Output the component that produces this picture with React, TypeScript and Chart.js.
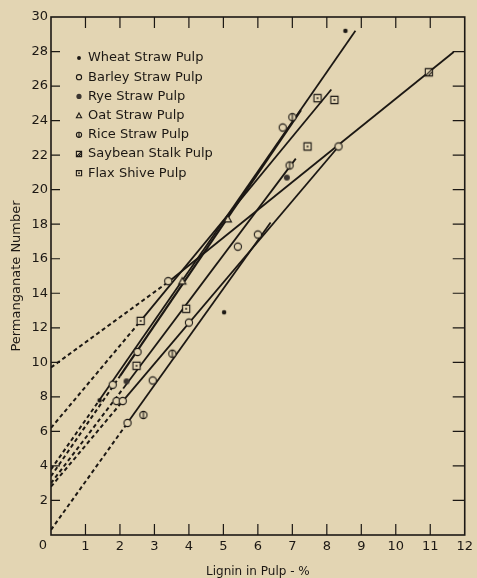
import React, { useEffect, useRef } from 'react';
import { Chart, registerables } from 'chart.js';

Chart.register(...registerables);

const BG = '#e3d5b3';
const INK = '#1c1814';
const FONT = 'DejaVu Sans';

// Axis ticks
const xTickValues = [0, 1, 2, 3, 4, 5, 6, 7, 8, 9, 10, 11, 12];
const yTickValues = [2, 4, 6, 8, 10, 12, 14, 16, 18, 20, 22, 24, 26, 28, 30];

// Legend labels / series keys
const pulpLabels = [
  'Wheat Straw Pulp',
  'Barley Straw Pulp',
  'Rye Straw Pulp',
  'Oat Straw Pulp',
  'Rice Straw Pulp',
  'Saybean Stalk Pulp',
  'Flax Shive Pulp',
];
const pulpKinds = ['wheat', 'barley', 'rye', 'oat', 'rice', 'soybean', 'flax'];

// Measured points (lignin %, permanganate number)
const wheatX = [8.54, 5.02, 1.41];
const wheatY = [29.2, 12.9, 7.8];
const barleyX = [3.4, 8.34, 1.79, 2.22, 2.95, 6.72, 5.42, 6.0, 4.0, 2.51, 1.9, 2.08];
const barleyY = [14.7, 22.5, 8.7, 6.49, 8.95, 23.6, 16.7, 17.4, 12.3, 10.6, 7.76, 7.76];
const ryeX = [2.19, 6.84];
const ryeY = [8.9, 20.7];
const oatX = [5.13, 3.81];
const oatY = [18.3, 14.7];
const riceX = [2.68, 6.92, 7.0, 3.52];
const riceY = [6.95, 21.4, 24.2, 10.5];
const soybeanX = [10.96];
const soybeanY = [26.8];
const flaxX = [8.22, 7.44, 2.6, 3.92, 2.48, 7.73];
const flaxY = [25.2, 22.5, 12.4, 13.1, 9.8, 25.3];

// Fitted lines: first segment is dashed extrapolation to zero lignin
const line1X = [0, 1.4, 8.83];
const line1Y = [3.8, 7.8, 29.2];
const line2X = [0, 2.0, 7.25];
const line2Y = [3.4, 9.2, 24.6];
const line3X = [0, 2.6, 8.13];
const line3Y = [6.2, 12.4, 25.8];
const line4X = [0, 3.43, 11.68];
const line4Y = [9.7, 14.7, 27.97];
const line5X = [0, 2.1, 7.1];
const line5Y = [3.0, 8.5, 21.8];
const line6X = [0, 2.1, 8.34];
const line6Y = [2.8, 7.8, 22.5];
const line7X = [0, 2.22, 6.37];
const line7Y = [0.3, 6.5, 18.1];

const zip = (xs: number[], ys: number[]) => xs.map((x, i) => ({ x, y: ys[i] }));

function drawSymbol(ctx: CanvasRenderingContext2D, kind: string, x: number, y: number, r: number) {
  ctx.save();
  ctx.strokeStyle = INK;
  ctx.fillStyle = BG;
  ctx.lineWidth = 1.1;
  ctx.beginPath();
  switch (kind) {
    case 'wheat':
      ctx.fillStyle = INK;
      ctx.arc(x, y, r * 0.75, 0, Math.PI * 2);
      ctx.fill();
      break;
    case 'barley':
      ctx.arc(x, y, r, 0, Math.PI * 2);
      ctx.fill();
      ctx.stroke();
      break;
    case 'rye':
      ctx.fillStyle = '#3b3530';
      ctx.arc(x, y, r, 0, Math.PI * 2);
      ctx.fill();
      break;
    case 'oat':
      ctx.moveTo(x, y - r);
      ctx.lineTo(x + r, y + r * 0.8);
      ctx.lineTo(x - r, y + r * 0.8);
      ctx.closePath();
      ctx.fill();
      ctx.stroke();
      break;
    case 'rice':
      ctx.arc(x, y, r, 0, Math.PI * 2);
      ctx.fill();
      ctx.stroke();
      ctx.beginPath();
      ctx.moveTo(x, y - r);
      ctx.lineTo(x, y + r);
      ctx.stroke();
      break;
    case 'soybean':
      ctx.rect(x - r, y - r, 2 * r, 2 * r);
      ctx.fill();
      ctx.stroke();
      ctx.beginPath();
      ctx.moveTo(x - r, y + r);
      ctx.lineTo(x + r, y - r);
      ctx.moveTo(x - r * 0.2, y + r);
      ctx.lineTo(x + r, y - r * 0.2);
      ctx.stroke();
      break;
    case 'flax':
      ctx.rect(x - r, y - r, 2 * r, 2 * r);
      ctx.fill();
      ctx.stroke();
      ctx.beginPath();
      ctx.fillStyle = INK;
      ctx.arc(x, y, 0.9, 0, Math.PI * 2);
      ctx.fill();
      break;
  }
  ctx.restore();
}

function makeIcon(kind: string, r: number) {
  const c = document.createElement('canvas');
  const s = Math.ceil(2 * r + 4);
  c.width = s;
  c.height = s;
  const ctx = c.getContext('2d')!;
  drawSymbol(ctx, kind, s / 2, s / 2, r);
  return c;
}

const framePlugin = {
  id: 'frameTicks',
  beforeDatasetsDraw(chart: any) {
    const { ctx, chartArea } = chart;
    const xs = chart.scales.x;
    const ys = chart.scales.y;
    ctx.save();
    ctx.strokeStyle = INK;
    ctx.lineWidth = 1.6;
    ctx.strokeRect(chartArea.left, chartArea.top, chartArea.right - chartArea.left, chartArea.bottom - chartArea.top);
    ctx.lineWidth = 1.2;
    ctx.beginPath();
    xTickValues.forEach((v) => {
      if (v === 0 || v === 12) return;
      const px = xs.getPixelForValue(v);
      ctx.moveTo(px, chartArea.bottom);
      ctx.lineTo(px, chartArea.bottom - 11);
      ctx.moveTo(px, chartArea.top);
      ctx.lineTo(px, chartArea.top + 11);
    });
    yTickValues.forEach((v) => {
      if (v === 30) return;
      const py = ys.getPixelForValue(v);
      ctx.moveTo(chartArea.left, py);
      ctx.lineTo(chartArea.left + 9, py);
      ctx.moveTo(chartArea.right, py);
      ctx.lineTo(chartArea.right - 12, py);
    });
    ctx.stroke();
    ctx.restore();
  },
  afterDraw(chart: any) {
    const { ctx, chartArea } = chart;
    ctx.save();
    ctx.font = `13px "${FONT}"`;
    ctx.fillStyle = INK;
    ctx.textBaseline = 'middle';
    ctx.textAlign = 'left';
    pulpLabels.forEach((label, i) => {
      const y = chartArea.top + 41 + i * 19.2;
      drawSymbol(ctx, pulpKinds[i], chartArea.left + 28, y, 2.6);
      ctx.fillText(label, chartArea.left + 37, y);
    });
    // origin label, set left of the axis corner as in the original
    ctx.textAlign = 'center';
    ctx.fillText('0', chartArea.left - 8, chartArea.bottom + 11);
    ctx.restore();
  },
};

export default function App() {
  const ref = useRef<HTMLCanvasElement>(null);

  useEffect(() => {
    if (!ref.current) return;
    const pointSets = [
      { kind: 'wheat', xs: wheatX, ys: wheatY, r: 3 },
      { kind: 'barley', xs: barleyX, ys: barleyY, r: 3.6 },
      { kind: 'rye', xs: ryeX, ys: ryeY, r: 3 },
      { kind: 'oat', xs: oatX, ys: oatY, r: 3.6 },
      { kind: 'rice', xs: riceX, ys: riceY, r: 3.6 },
      { kind: 'soybean', xs: soybeanX, ys: soybeanY, r: 3.6 },
      { kind: 'flax', xs: flaxX, ys: flaxY, r: 3.6 },
    ];
    const scatterSets = pointSets.map((p, i) => ({
      type: 'scatter' as const,
      label: pulpLabels[i],
      data: zip(p.xs, p.ys),
      pointStyle: makeIcon(p.kind, p.r),
      pointRadius: p.r,
      showLine: false,
      order: 1,
    }));
    const lines = [
      [line1X, line1Y, 1.8],
      [line2X, line2Y, 2.2],
      [line3X, line3Y, 1.8],
      [line4X, line4Y, 1.8],
      [line5X, line5Y, 1.8],
      [line6X, line6Y, 1.8],
      [line7X, line7Y, 1.8],
    ] as [number[], number[], number][];
    const lineSets = lines.map(([xs, ys, w]) => ({
      type: 'scatter' as const,
      label: '',
      data: zip(xs, ys),
      showLine: true,
      borderColor: INK,
      borderWidth: w,
      pointRadius: 0,
      pointHoverRadius: 0,
      fill: false,
      order: 2,
      segment: {
        borderDash: (c: any) => (c.p0DataIndex === 0 ? [4, 3] : undefined),
        borderWidth: (c: any) => (c.p0DataIndex === 0 ? 2 : w),
      },
    }));

    const chart = new Chart(ref.current, {
      type: 'scatter',
      data: { datasets: [...scatterSets, ...lineSets] as any },
      options: {
        animation: false,
        responsive: true,
        maintainAspectRatio: false,
        layout: { padding: { top: 17, right: 10, left: 0, bottom: 0 } },
        plugins: { legend: { display: false }, tooltip: { enabled: false } },
        scales: {
          x: {
            type: 'linear',
            min: 0,
            max: 12,
            grid: { display: false, drawTicks: false },
            border: { display: false },
            afterFit: (s: any) => {
              s.height = 43;
            },
            afterBuildTicks: (s: any) => {
              s.ticks = xTickValues.map((v) => ({ value: v }));
            },
            ticks: {
              color: INK,
              font: { family: FONT, size: 13 },
              padding: 4,
              autoSkip: false,
              maxRotation: 0,
              callback: (v: any) => (v === 0 ? '' : String(v)),
            },
            title: {
              display: true,
              text: 'Lignin in Pulp - %',
              color: INK,
              font: { family: FONT, size: 12, lineHeight: 1 },
              padding: { top: 0, bottom: 0 },
            },
          },
          y: {
            type: 'linear',
            min: 0,
            max: 30,
            grid: { display: false, drawTicks: false },
            border: { display: false },
            afterFit: (s: any) => {
              s.width = 51;
            },
            afterBuildTicks: (s: any) => {
              s.ticks = yTickValues.map((v) => ({ value: v }));
            },
            ticks: {
              color: INK,
              font: { family: FONT, size: 13 },
              padding: 3,
              autoSkip: false,
            },
            title: {
              display: true,
              text: 'Permanganate Number',
              color: INK,
              font: { family: FONT, size: 13, lineHeight: 1 },
              padding: { top: 10, bottom: 0 },
            },
          },
        },
      },
      plugins: [framePlugin],
    });
    return () => chart.destroy();
  }, []);

  return (
    <div style={{ position: 'absolute', left: 0, top: 0, width: 477, height: 578, background: BG }}>
      <canvas ref={ref} />
    </div>
  );
}
